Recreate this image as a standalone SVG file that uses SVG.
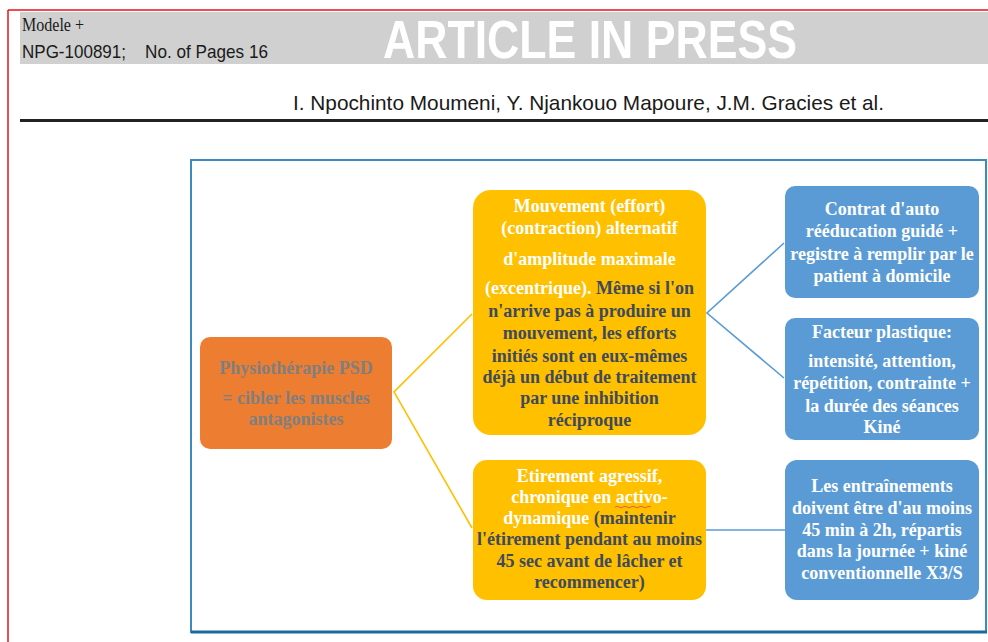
<svg xmlns="http://www.w3.org/2000/svg" width="988" height="642" viewBox="0 0 988 642">
<style>
.hdr{font-family:"Liberation Sans",Arial,sans-serif;fill:#1a1a1a}
.n{font-family:"Liberation Serif","Times New Roman",serif;font-weight:bold;font-size:18px;text-anchor:middle}
.w{fill:#ffffff}
.d{fill:#3e4a5c}
.g{fill:#7f7f7f}
.cy{stroke:#FFC000;stroke-width:1.6;fill:none}
.cb{stroke:#5B9BD5;stroke-width:1.6;fill:none}
</style>
<rect x="0" y="0" width="988" height="642" fill="#ffffff"/>
<line x1="8" y1="10" x2="988" y2="10" stroke="#e8121b" stroke-width="1.5"/>
<line x1="8" y1="10" x2="8" y2="642" stroke="#e8121b" stroke-width="1.5"/>
<rect x="20" y="12" width="968" height="52" fill="#d0d0d0"/>
<text class="hdr" x="22" y="31" style="font-family:'Liberation Serif',serif;font-size:19px" textLength="62" lengthAdjust="spacingAndGlyphs">Modele +</text>
<text class="hdr" x="22" y="58" style="font-size:19px" textLength="104" lengthAdjust="spacingAndGlyphs">NPG-100891;</text>
<text class="hdr" x="145" y="58" style="font-size:19px" textLength="123" lengthAdjust="spacingAndGlyphs">No. of Pages 16</text>
<text x="383" y="58" style="font-family:'Liberation Sans',Arial,sans-serif;font-weight:bold;font-size:53px;fill:#ffffff" textLength="414" lengthAdjust="spacingAndGlyphs">ARTICLE IN PRESS</text>
<text class="hdr" x="293" y="110" style="font-size:21px" textLength="591" lengthAdjust="spacingAndGlyphs">I. Npochinto Moumeni, Y. Njankouo Mapoure, J.M. Gracies et al.</text>
<line x1="20" y1="120.5" x2="988" y2="120.5" stroke="#222222" stroke-width="3"/>
<rect x="191" y="160" width="795" height="472" fill="#ffffff" stroke="#3a8cbf" stroke-width="2"/>
<line x1="191" y1="632" x2="987" y2="632" stroke="#1c6a9c" stroke-width="3"/>
<g id="connectors">
<polyline class="cy" points="472,314 394,392 472,528"/>
<polyline class="cb" points="784,243 707,313 784,378"/>
<line class="cb" x1="706" y1="530" x2="785" y2="530"/>
</g>
<g id="n-physio">
<rect x="200" y="337" width="192" height="112" rx="10" fill="#ED7D31"/>
<text class="n g" x="296" y="374">Physiothérapie PSD</text>
<text class="n g" x="296" y="404">= cibler les muscles</text>
<text class="n g" x="296" y="425">antagonistes</text>
</g>
<g id="n-mouvement">
<rect x="473" y="190" width="233" height="245" rx="18" fill="#FFC000"/>
<text class="n w" x="589.5" y="212">Mouvement (effort)</text>
<text class="n w" x="589.5" y="234">(contraction) alternatif</text>
<text class="n w" x="589.5" y="265">d'amplitude maximale</text>
<text class="n" x="589.5" y="294"><tspan class="w">(excentrique).</tspan><tspan class="d"> Même si l'on</tspan></text>
<text class="n d" x="589.5" y="317">n'arrive pas à produire un</text>
<text class="n d" x="589.5" y="339">mouvement, les efforts</text>
<text class="n d" x="589.5" y="362">initiés sont en eux-mêmes</text>
<text class="n d" x="589.5" y="383">déjà un début de traitement</text>
<text class="n d" x="589.5" y="404">par une inhibition</text>
<text class="n d" x="589.5" y="426">réciproque</text>
</g>
<g id="n-etirement">
<rect x="473" y="460" width="233" height="140" rx="14" fill="#FFC000"/>
<text class="n w" x="589.5" y="482">Etirement agressif,</text>
<text class="n w" x="589.5" y="503">chronique en activo-</text>
<path d="M615,507 q2,-1.5 4,0 t4,0 t4,0 t4,0 t4,0 t4,0 t4,0 t4,0 t4,0" stroke="#e8553c" stroke-width="0.9" fill="none"/>
<text class="n" x="589.5" y="524"><tspan class="w">dynamique</tspan><tspan class="d"> (maintenir</tspan></text>
<text class="n d" x="589.5" y="545">l'étirement pendant au moins</text>
<text class="n d" x="589.5" y="567">45 sec avant de lâcher et</text>
<text class="n d" x="589.5" y="588">recommencer)</text>
</g>
<g id="n-contrat">
<rect x="785" y="186" width="194" height="112" rx="10" fill="#5B9BD5"/>
<text class="n w" x="882" y="215">Contrat d'auto</text>
<text class="n w" x="882" y="237">rééducation guidé +</text>
<text class="n w" x="882" y="260">registre à remplir par le</text>
<text class="n w" x="882" y="282">patient à domicile</text>
</g>
<g id="n-facteur">
<rect x="785" y="318" width="194" height="122" rx="10" fill="#5B9BD5"/>
<text class="n w" x="882" y="338">Facteur plastique:</text>
<text class="n w" x="882" y="367">intensité, attention,</text>
<text class="n w" x="882" y="389">répétition, contrainte +</text>
<text class="n w" x="882" y="412">la durée des séances</text>
<text class="n w" x="882" y="433">Kiné</text>
</g>
<g id="n-entrainements">
<rect x="785" y="460" width="194" height="140" rx="12" fill="#5B9BD5"/>
<text class="n w" x="882" y="492">Les entraînements</text>
<text class="n w" x="882" y="514">doivent être d'au moins</text>
<text class="n w" x="882" y="536">45 min à 2h, répartis</text>
<text class="n w" x="882" y="557">dans la journée + kiné</text>
<text class="n w" x="882" y="579">conventionnelle X3/S</text>
</g>
</svg>
